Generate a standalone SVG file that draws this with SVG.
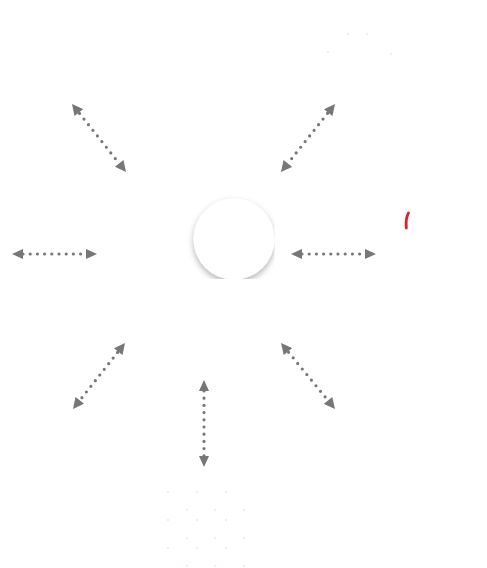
<svg xmlns="http://www.w3.org/2000/svg" width="487" height="568" viewBox="0 0 487 568">
  <style>
    .conn { stroke: #777777; stroke-width: 3.2; stroke-linecap: round; stroke-dasharray: 0 7.2; fill: none; }
    .tips { stroke: none; fill: none; }
    .head { fill: #777777; }
    .faint { fill: #f6c6d8; }
  </style>
  <defs>
    <filter id="shadow" x="-30%" y="-30%" width="160%" height="170%">
      <feDropShadow dx="0" dy="3" stdDeviation="3" flood-color="#000000" flood-opacity="0.3"/>
    </filter>
    <clipPath id="clipNode">
      <rect x="170" y="170" width="104.5" height="109"/>
    </clipPath>
    <marker id="arr" viewBox="0 0 10 10" refX="10" refY="5" markerWidth="12" markerHeight="11" markerUnits="userSpaceOnUse" orient="auto-start-reverse">
      <path d="M0,0 L10,5 L0,10 Z" class="head"/>
    </marker>
  </defs>
  <rect width="487" height="568" fill="#ffffff"/>

  <g id="center-node" clip-path="url(#clipNode)">
    <circle cx="234" cy="239" r="40.5" fill="#ffffff" filter="url(#shadow)"/>
  </g>

  <g id="connectors">
    <line class="conn" x1="79.5" y1="113.4" x2="118.5" y2="162.6"/>
    <line class="tips" x1="72" y1="104" x2="126" y2="172" marker-start="url(#arr)" marker-end="url(#arr)"/>

    <line class="conn" x1="327.5" y1="113.4" x2="288.5" y2="162.6"/>
    <line class="tips" x1="335" y1="104" x2="281" y2="172" marker-start="url(#arr)" marker-end="url(#arr)"/>

    <line class="conn" x1="23" y1="254" x2="87" y2="254"/>
    <path d="M12,254 L23,249 L23,259 Z M97,254 L86,249 L86,259 Z" class="head"/>

    <line class="conn" x1="302" y1="254" x2="366" y2="254"/>
    <path d="M291,254 L302,249 L302,259 Z M376,254 L365,249 L365,259 Z" class="head"/>

    <line class="conn" x1="117.6" y1="352.4" x2="80.4" y2="399.6"/>
    <line class="tips" x1="125" y1="343" x2="73" y2="409" marker-start="url(#arr)" marker-end="url(#arr)"/>

    <line class="conn" x1="288.6" y1="352.3" x2="327.4" y2="399.7"/>
    <line class="tips" x1="281" y1="343" x2="335" y2="409" marker-start="url(#arr)" marker-end="url(#arr)"/>

    <line class="conn" x1="204" y1="391" x2="204" y2="456"/>
    <path d="M204,380 L199,391 L209,391 Z M204,467 L199,456 L209,456 Z" class="head"/>
  </g>

  <g id="red-mark">
    <path d="M408.5,213 Q405.5,218 406.3,228" stroke="#e02030" stroke-width="2.8" fill="none" stroke-linecap="round"/>
  </g>

  <g id="faint-dots" opacity="0.6">
    <circle class="faint" cx="168" cy="492" r="0.9"/>
    <circle class="faint" cx="197" cy="492" r="0.9"/>
    <circle class="faint" cx="226" cy="492" r="0.9"/>
    <circle class="faint" cx="187" cy="510" r="0.9"/>
    <circle class="faint" cx="215" cy="510" r="0.9"/>
    <circle class="faint" cx="244" cy="510" r="0.9"/>
    <circle class="faint" cx="168" cy="520" r="0.9"/>
    <circle class="faint" cx="197" cy="520" r="0.9"/>
    <circle class="faint" cx="226" cy="520" r="0.9"/>
    <circle class="faint" cx="187" cy="538" r="0.9"/>
    <circle class="faint" cx="215" cy="538" r="0.9"/>
    <circle class="faint" cx="244" cy="538" r="0.9"/>
    <circle class="faint" cx="168" cy="548" r="0.9"/>
    <circle class="faint" cx="197" cy="548" r="0.9"/>
    <circle class="faint" cx="226" cy="548" r="0.9"/>
    <circle class="faint" cx="187" cy="566" r="0.9"/>
    <circle class="faint" cx="215" cy="566" r="0.9"/>
    <circle class="faint" cx="244" cy="566" r="0.9"/>
    <circle class="faint" cx="348" cy="34" r="0.9"/>
    <circle class="faint" cx="367" cy="34" r="0.9"/>
    <circle class="faint" cx="328" cy="52" r="0.9"/>
    <circle class="faint" cx="391" cy="54" r="0.9"/>
  </g>
</svg>
